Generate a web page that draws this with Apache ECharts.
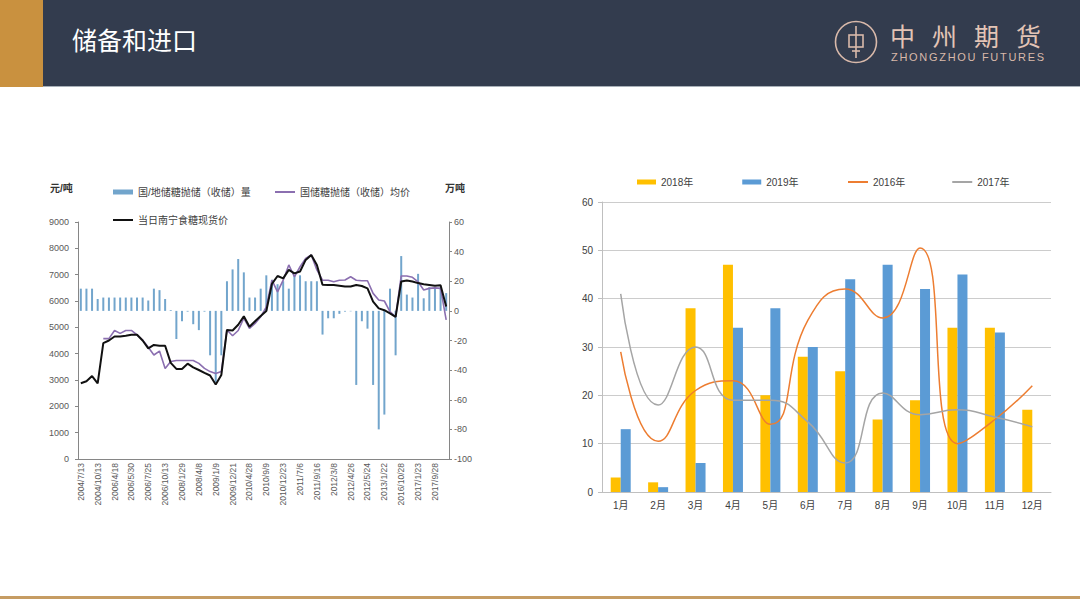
<!DOCTYPE html>
<html>
<head>
<meta charset="utf-8">
<script src="https://cdn.jsdelivr.net/npm/echarts@6/dist/echarts.min.js"></script>
<style>
  html, body { margin: 0; padding: 0; background: #fff; }
  body { width: 1080px; height: 607px; position: relative; overflow: hidden;
         font-family: "Noto Sans CJK SC", "Noto Sans", sans-serif; }
  #hdr { position: absolute; left: 0; top: 0; width: 1080px; height: 86px;
         background: #333c4e; border-bottom: 1px solid #a8b0b8; }
  #strip { position: absolute; left: 0; top: 0; width: 43px; height: 87px; background: #c9913f; }
  #title { position: absolute; left: 72px; top: 24px; font-size: 25px; line-height: 30px; color: #fff; }
  #logo { position: absolute; left: 834px; top: 20px; }
  #logoCn { position: absolute; left: 890px; top: 22px; font-size: 25px; line-height: 26px; color: #e3c4b6;
            letter-spacing: 17px; white-space: nowrap; }
  #logoEn { position: absolute; left: 891px; top: 51px; font-size: 11px; line-height: 12px; color: #d9b9aa;
            letter-spacing: 1.7px; white-space: nowrap; font-family: "Liberation Sans", Arial, sans-serif; }
  #foot { position: absolute; left: 0; top: 596px; width: 1080px; height: 3px; background: #c69c63; }
  #chart { position: absolute; left: 0; top: 0; width: 1080px; height: 607px; }
</style>
</head>
<body>
<div id="hdr"></div>
<div id="strip"></div>
<div id="title">储备和进口</div>
<svg id="logo" width="44" height="44" viewBox="0 0 44 44">
  <circle cx="22" cy="22" r="20.5" fill="none" stroke="#d9b9aa" stroke-width="1.6"/>
  <rect x="15" y="15" width="14" height="12" fill="none" stroke="#d9b9aa" stroke-width="1.6"/>
  <line x1="22" y1="6" x2="22" y2="38" stroke="#d9b9aa" stroke-width="1.6"/>
  <line x1="18" y1="31" x2="26" y2="31" stroke="#d9b9aa" stroke-width="1.6"/>
</svg>
<div id="logoCn">中州期货</div>
<div id="logoEn">ZHONGZHOU FUTURES</div>
<div id="foot"></div>
<div id="chart"></div>
<script>
// left chart: sugar reserve auction volume and prices
const tickLabels = ["2004/7/13", "2004/10/13", "2006/4/18", "2006/5/30", "2006/7/25", "2006/10/13",
  "2008/1/29", "2008/4/8", "2009/1/9", "2009/12/21", "2010/4/28", "2010/9/9", "2010/12/23",
  "2011/7/6", "2011/9/16", "2012/3/8", "2012/4/26", "2012/5/24", "2013/1/22", "2016/10/28",
  "2017/1/23", "2017/9/28"];

// 万吨, positive = auction, negative = purchase
const reserveVolume = [15, 15, 15, 8, 9, 9, 9, 9, 9, 9, 9, 9, 7, 15, 14, 8, 0.5,
  -19, -7, -0.5, -9, -13, -0.5, -30, -48, -30,
  20, 28, 35, 26, 9, 9, 15, 24, 21, 18, 20, 15, 24, 24, 20, 20, 20,
  -16, -5, -5, -2, -0.5, -0.3, -50, -7, -12, -50, -80, -70,
  15, -30, 37, 11, 9, 25, 8.5, 16, 16, 16, 12];

// 元/吨
const reserveAvgPrice = [null, null, null, null, 4570, 4570, 4880, 4770, 4880, 4880, 4710, 4520,
  4240, 3950, 4100, 3440, 3700, 3740, 3740, 3740, 3740, 3630, 3440, 3320, 3250, 3320,
  4900, 4680, 4880, 5350, 4960, 5150, 5400, 5780, 6790, 6350, 6790, 7370, 6920, 7300,
  7620, 7750, 7180, 6790, 6790, 6730, 6790, 6800, 6920, 6790, 6770, 6770, 6290, 6040,
  6000, 5600, 5400, 6950, 6950, 6900, 6730, 6420, 6480, 6500, 6480, 5280];

const nanningSpot = [2875, 2950, 3150, 2875, 4400, 4500, 4650, 4650, 4680, 4720, 4720, 4500,
  4200, 4330, 4300, 4300, 3650, 3420, 3420, 3620, 3480, 3380, 3270, 3170, 2830, 3190,
  4900, 4880, 5100, 5420, 5020, 5230, 5430, 5620, 6650, 6950, 6860, 7180, 7050, 7120,
  7560, 7750, 7370, 6620, 6610, 6610, 6580, 6550, 6550, 6610, 6570, 6480, 5980, 5720,
  5650, 5530, 5400, 6740, 6780, 6740, 6680, 6640, 6610, 6580, 6600, 5790];

// right chart: monthly imports
const months = ["1月", "2月", "3月", "4月", "5月", "6月", "7月", "8月", "9月", "10月", "11月", "12月"];
const imports2018 = [3, 2, 38, 47, 20, 28, 25, 15, 19, 34, 34, 17];
const imports2019 = [13, 1, 6, 34, 38, 30, 44, 47, 42, 45, 33, null];
const imports2016 = [29, 10.5, 21, 23, 14, 35.5, 42, 36, 50.5, 10, 15, 22];
const imports2017 = [41, 18, 30, 19, 19, 14.5, 6, 20.5, 16, 17, 15.5, 13.5];

// only every third date is labelled on the axis
const dateCats = [];
tickLabels.forEach(t => { dateCats.push(t, "", ""); });

const FONT = '"Liberation Sans", "Noto Sans CJK SC", sans-serif';
const LEG_TEXT = { fontSize: 10, color: "#404040" };
const chart = echarts.init(document.getElementById("chart"), null, { renderer: "svg" });

const option = {
  animation: false,
  textStyle: { fontFamily: FONT },
  grid: [
    { left: 78, top: 222, width: 371, height: 237 },
    { left: 602, top: 202, width: 449, height: 290 }
  ],
  legend: [
    { left: 113, top: 187, padding: 0, itemWidth: 20, itemHeight: 5, icon: "rect", textStyle: LEG_TEXT,
      data: ["国/地储糖抛储（收储）量"] },
    { left: 275, top: 187, padding: 0, itemWidth: 20, itemHeight: 2, icon: "rect", textStyle: LEG_TEXT,
      data: ["国储糖抛储（收储）均价"] },
    { left: 113, top: 215, padding: 0, itemWidth: 20, itemHeight: 2, icon: "rect", textStyle: LEG_TEXT,
      data: ["当日南宁食糖现货价"] },
    { left: 637, top: 177, padding: 0, itemWidth: 19, itemHeight: 5, itemGap: 49, icon: "rect", textStyle: LEG_TEXT,
      data: ["2018年", "2019年"] },
    { left: 848, top: 177, padding: 0, itemWidth: 20, itemHeight: 2, itemGap: 47, icon: "rect", textStyle: LEG_TEXT,
      data: ["2016年", "2017年"] }
  ],
  graphic: [
    { type: "text", left: 50, top: 183, style: { text: "元/吨", fontSize: 10, fontWeight: "bold", fill: "#333", fontFamily: FONT } },
    { type: "text", left: 445, top: 183, style: { text: "万吨", fontSize: 10, fontWeight: "bold", fill: "#333", fontFamily: FONT } }
  ],
  xAxis: [
    {
      gridIndex: 0, type: "category", data: dateCats,
      axisLine: { onZero: false, lineStyle: { color: "#868686" } },
      axisTick: { interval: 0, length: 3, lineStyle: { color: "#868686" } },
      axisLabel: { interval: 2, rotate: 90, fontSize: 8.5, color: "#595959", margin: 4 }
    },
    {
      gridIndex: 1, type: "category", data: months,
      axisLine: { lineStyle: { color: "#bfbfbf" } },
      axisTick: { length: 5, lineStyle: { color: "#bfbfbf" } },
      axisLabel: { fontSize: 10, color: "#404040", margin: 8 }
    }
  ],
  yAxis: [
    {
      gridIndex: 0, type: "value", min: 0, max: 9000, interval: 1000,
      axisLine: { show: true, lineStyle: { color: "#868686" } },
      axisTick: { show: true, length: 3 },
      splitLine: { show: false },
      axisLabel: { fontSize: 9, color: "#595959", margin: 9, formatter: v => String(v) }
    },
    {
      gridIndex: 0, type: "value", position: "right", min: -100, max: 60, interval: 20,
      axisLine: { show: true, lineStyle: { color: "#868686" } },
      axisTick: { show: true, length: 3 },
      splitLine: { show: false },
      axisLabel: { fontSize: 9, color: "#595959", margin: 5 }
    },
    {
      gridIndex: 1, type: "value", min: 0, max: 60, interval: 10,
      axisLine: { show: true, lineStyle: { color: "#bfbfbf" } },
      axisTick: { show: true, length: 4, lineStyle: { color: "#bfbfbf" } },
      splitLine: { lineStyle: { color: "#cccccc" } },
      axisLabel: { fontSize: 10, color: "#404040", margin: 9 }
    }
  ],
  series: [
    {
      name: "国/地储糖抛储（收储）量", type: "bar", xAxisIndex: 0, yAxisIndex: 1,
      data: reserveVolume, barWidth: 2, itemStyle: { color: "#72a5cc" }
    },
    {
      name: "国储糖抛储（收储）均价", type: "line", xAxisIndex: 0, yAxisIndex: 0,
      data: reserveAvgPrice, symbol: "none",
      lineStyle: { color: "#8b6fb0", width: 1.6 }, itemStyle: { color: "#8b6fb0" }
    },
    {
      name: "当日南宁食糖现货价", type: "line", xAxisIndex: 0, yAxisIndex: 0,
      data: nanningSpot, symbol: "none",
      lineStyle: { color: "#111", width: 2 }, itemStyle: { color: "#111" }
    },
    {
      name: "2018年", type: "bar", xAxisIndex: 1, yAxisIndex: 2,
      data: imports2018, barWidth: 10, barGap: "0%", itemStyle: { color: "#ffc000" }
    },
    {
      name: "2019年", type: "bar", xAxisIndex: 1, yAxisIndex: 2,
      data: imports2019, barWidth: 10, barGap: "0%", itemStyle: { color: "#5b9bd5" }
    },
    {
      name: "2016年", type: "line", xAxisIndex: 1, yAxisIndex: 2,
      data: imports2016, smooth: 0.5, symbol: "none",
      lineStyle: { color: "#ed7d31", width: 1.5 }, itemStyle: { color: "#ed7d31" }
    },
    {
      name: "2017年", type: "line", xAxisIndex: 1, yAxisIndex: 2,
      data: imports2017, smooth: 0.5, symbol: "none",
      lineStyle: { color: "#a5a5a5", width: 1.5 }, itemStyle: { color: "#a5a5a5" }
    }
  ]
};

chart.setOption(option);
</script>
</body>
</html>
